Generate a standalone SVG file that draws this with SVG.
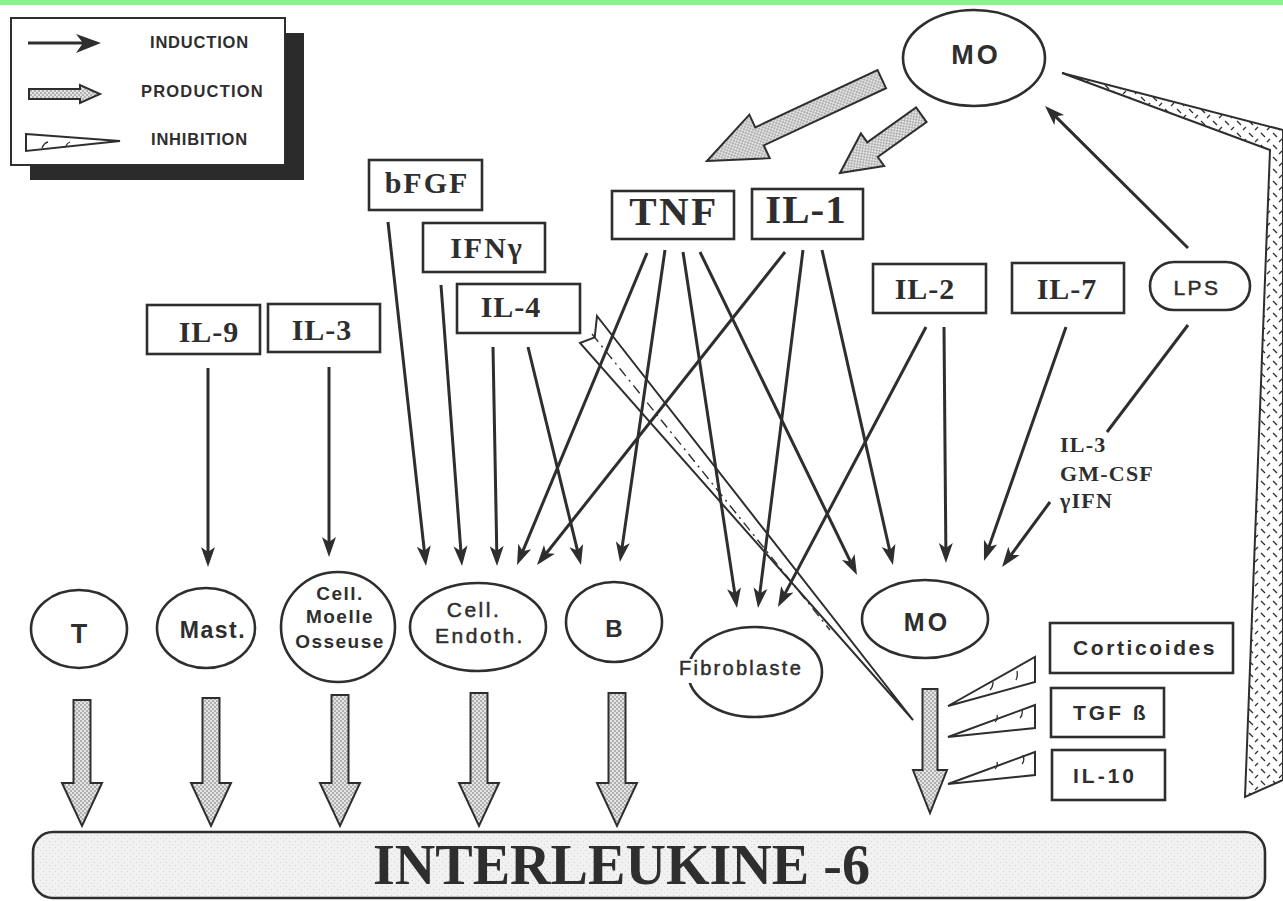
<svg xmlns="http://www.w3.org/2000/svg" width="1283" height="901" viewBox="0 0 1283 901">
  <style>
    .box { fill: #fff; stroke: #2e2e2e; stroke-width: 2.6; }
    .cell { fill: #fff; stroke: #2e2e2e; stroke-width: 2.6; }
    .ser { font-family: "Liberation Serif", "Times New Roman", serif; font-weight: bold; fill: #2e2e2e; }
    .san { font-family: "Liberation Sans", Arial, sans-serif; fill: #2e2e2e; }
    .b { font-weight: bold; }
    .med { stroke: #2e2e2e; stroke-width: 0.5; }
    .ind { fill: none; stroke: #2e2e2e; stroke-width: 3; marker-end: url(#ah); }
    .prod { fill: url(#stip); stroke: #2e2e2e; stroke-width: 2; stroke-linejoin: miter; }
    .inh { fill: #fff; stroke: #2e2e2e; stroke-width: 2; stroke-linejoin: miter; }
    .tick { fill: none; stroke: #2e2e2e; stroke-width: 1.3; }
  </style>
  <defs>
    <marker id="ah" markerUnits="userSpaceOnUse" viewBox="-13 -8 22 16" markerWidth="22" markerHeight="16" refX="0" refY="0" orient="auto">
      <path d="M8,0 L-12,-7 L-7,0 L-12,7 Z" fill="#2e2e2e"/>
    </marker>
    <pattern id="stip" patternUnits="userSpaceOnUse" width="4" height="4">
      <rect width="4" height="4" fill="#e4e4e4"/>
      <circle cx="1" cy="1" r="0.8" fill="#6e6e6e"/>
      <circle cx="3" cy="3" r="0.8" fill="#6e6e6e"/>
    </pattern>
    <pattern id="bar" patternUnits="userSpaceOnUse" width="6" height="6">
      <rect width="6" height="6" fill="#f1f1f1"/>
      <circle cx="1.5" cy="1.5" r="0.6" fill="#cfcfcf"/>
      <circle cx="4.5" cy="4.5" r="0.6" fill="#cfcfcf"/>
    </pattern>
    <pattern id="hatch" patternUnits="userSpaceOnUse" width="12" height="12">
      <rect width="12" height="12" fill="#fff"/>
      <path d="M1,1 l4,4 M10,7 l-3,3" stroke="#2e2e2e" stroke-width="1.3" fill="none"/>
    </pattern>
  </defs>

  <!-- top band -->
  <rect x="0" y="0" width="1283" height="5" fill="#8ef08e"/>

  <!-- legend -->
  <g id="legend">
    <rect x="30" y="33" width="274" height="147" fill="#2b2b2b"/>
    <rect x="11" y="18" width="274" height="147" fill="#fff" stroke="#2e2e2e" stroke-width="2"/>
    <line x1="28" y1="43" x2="84" y2="43" stroke="#2e2e2e" stroke-width="3"/>
    <path d="M101,43 L76,34 L83,43 L76,53 Z" fill="#2e2e2e"/>
    <path d="M29,89 H80 V85 L100,94 L80,103 V99 H29 Z" class="prod"/>
    <path d="M26,134 L120,141 L26,151 Z" class="inh"/>
    <path d="M42,148 q2,-5 6,-6 M66,146 q1,-3 4,-4" class="tick"/>
    <text x="150" y="48" class="san b" font-size="16.5" letter-spacing="0.8">INDUCTION</text>
    <text x="141" y="97" class="san b" font-size="16.5" letter-spacing="1.2">PRODUCTION</text>
    <text x="151" y="145" class="san b" font-size="16.5" letter-spacing="0.8">INHIBITION</text>
  </g>

  <!-- connectors -->
  <g id="connectors">
    <!-- inhibition: MO feedback band along right edge -->
    <path d="M1062,73 L1283,130 L1283,780 L1245,797 L1270,150 Z" fill="url(#hatch)" stroke="#2e2e2e" stroke-width="2"/>
    <!-- inhibition: IL-4 on MO production -->
    <path d="M597,316 L913,720 L580,343 L594.7,337.4 Z" class="inh"/>
    <path d="M592,334 L830,630" fill="none" stroke="#2e2e2e" stroke-width="1.4" stroke-dasharray="10 5 2 5"/>
    <!-- inhibition: Corticoides, TGF beta, IL-10 -->
    <path d="M948,706 L1035,657 L1035,682 Z" class="inh"/>
    <path d="M948,737 L1035,705 L1035,728 Z" class="inh"/>
    <path d="M948,784 L1035,752 L1035,775 Z" class="inh"/>
    <path d="M990,690 q3,-3 3,-8 M1016,680 q2,-4 1,-9 M995,722 q3,-2 2,-7 M1020,718 q3,-3 2,-8 M995,769 q3,-2 2,-7 M1022,764 q3,-3 1,-9" class="tick"/>

    <!-- production: MO to TNF and IL-1 -->
    <path d="M0,0 L-58,-24 L-58,-10 L-193,-10 L-193,10 L-58,10 L-58,24 Z" class="prod" transform="translate(707,161) rotate(154.9)"/>
    <path d="M0,0 L-40,-20 L-40,-9 L-100,-9 L-100,9 L-40,9 L-40,20 Z" class="prod" transform="translate(840,173) rotate(144.4)"/>

    <!-- production: cells to IL-6 -->
    <path d="M73.5,700 H90.5 V783 H102 L82,826 L62,783 H73.5 Z" class="prod"/>
    <path d="M202.5,698 H219.5 V783 H231 L211,826 L191,783 H202.5 Z" class="prod"/>
    <path d="M331.5,695 H348.5 V783 H360 L340,826 L320,783 H331.5 Z" class="prod"/>
    <path d="M470.5,693 H487.5 V783 H499 L479,826 L459,783 H470.5 Z" class="prod"/>
    <path d="M608.5,693 H625.5 V783 H637 L617,826 L597,783 H608.5 Z" class="prod"/>
    <path d="M922.5,689 H937.5 V770 H947 L930,813 L913,770 H922.5 Z" class="prod"/>

    <!-- induction -->
    <line x1="208" y1="368" x2="208" y2="559" class="ind"/>
    <line x1="329" y1="367" x2="329" y2="549" class="ind"/>
    <line x1="388" y1="222" x2="425.1" y2="558" class="ind"/>
    <line x1="441" y1="285" x2="461.4" y2="558" class="ind"/>
    <line x1="493" y1="347" x2="496.9" y2="558" class="ind"/>
    <line x1="528" y1="347" x2="579.1" y2="557.2" class="ind"/>
    <line x1="647" y1="253" x2="520.1" y2="557.6" class="ind"/>
    <line x1="665" y1="250" x2="621.1" y2="554.1" class="ind"/>
    <line x1="683" y1="252" x2="735.8" y2="600.1" class="ind"/>
    <line x1="700" y1="252" x2="853.5" y2="567.8" class="ind"/>
    <line x1="785" y1="252" x2="542" y2="558.7" class="ind"/>
    <line x1="803" y1="250" x2="759" y2="600.1" class="ind"/>
    <line x1="822" y1="250" x2="891.2" y2="557.2" class="ind"/>
    <line x1="926" y1="327" x2="781.7" y2="599.9" class="ind"/>
    <line x1="944" y1="327" x2="945.9" y2="555" class="ind"/>
    <line x1="1066" y1="327" x2="986.6" y2="553.4" class="ind"/>
    <line x1="1188" y1="325" x2="1107" y2="432" fill="none" stroke="#2e2e2e" stroke-width="3"/>
    <line x1="1050" y1="502" x2="1006.8" y2="560.6" class="ind"/>
    <line x1="1188" y1="248" x2="1050.7" y2="111.6" class="ind"/>
  </g>

  <!-- mediators -->
  <g id="mo-top">
    <ellipse cx="974" cy="58" rx="71" ry="48" class="cell"/>
    <text x="976" y="64" class="san b" font-size="27" letter-spacing="3" text-anchor="middle">MO</text>
  </g>
  <g id="tnf">
    <rect x="612" y="191" width="122" height="48" class="box"/>
    <text x="674" y="225" class="ser" font-size="41" letter-spacing="2.5" text-anchor="middle">TNF</text>
  </g>
  <g id="il1">
    <rect x="752" y="189" width="111" height="50" class="box"/>
    <text x="806" y="223" class="ser" font-size="41" letter-spacing="1" text-anchor="middle">IL-1</text>
  </g>
  <g id="bfgf">
    <rect x="369" y="160" width="113" height="50" class="box"/>
    <text x="427" y="193" class="ser" font-size="30" letter-spacing="2" text-anchor="middle">bFGF</text>
  </g>
  <g id="ifng">
    <rect x="423" y="223" width="122" height="49" class="box"/>
    <text x="487" y="258" class="ser" font-size="30" letter-spacing="2" text-anchor="middle">IFNγ</text>
  </g>
  <g id="il4">
    <rect x="457" y="284" width="123" height="49" class="box"/>
    <text x="511" y="317" class="ser" font-size="30" letter-spacing="1" text-anchor="middle">IL-4</text>
  </g>
  <g id="il9">
    <rect x="147" y="305" width="113" height="49" class="box"/>
    <text x="209" y="342" class="ser" font-size="30" letter-spacing="1" text-anchor="middle">IL-9</text>
  </g>
  <g id="il3">
    <rect x="268" y="304" width="112" height="48" class="box"/>
    <text x="322" y="340" class="ser" font-size="30" letter-spacing="1" text-anchor="middle">IL-3</text>
  </g>
  <g id="il2">
    <rect x="873" y="264" width="113" height="49" class="box"/>
    <text x="925" y="299" class="ser" font-size="30" letter-spacing="1" text-anchor="middle">IL-2</text>
  </g>
  <g id="il7">
    <rect x="1012" y="263" width="112" height="50" class="box"/>
    <text x="1067" y="299" class="ser" font-size="30" letter-spacing="1" text-anchor="middle">IL-7</text>
  </g>
  <g id="lps">
    <rect x="1150" y="262" width="100" height="48" rx="24" ry="24" class="box"/>
    <text x="1197" y="295" class="san med" font-size="21" letter-spacing="2.5" text-anchor="middle">LPS</text>
  </g>
  <g id="cofactors">
    <text x="1060" y="452" class="ser" font-size="22" letter-spacing="1.2">IL-3</text>
    <text x="1060" y="481" class="ser" font-size="22" letter-spacing="1.2">GM-CSF</text>
    <text x="1060" y="508" class="ser" font-size="22" letter-spacing="1.2">γIFN</text>
  </g>

  <!-- producing cells -->
  <g id="cell-t">
    <ellipse cx="79" cy="629" rx="48" ry="39" class="cell"/>
    <text x="79" y="643" class="san b" font-size="27" text-anchor="middle">T</text>
  </g>
  <g id="cell-mast">
    <ellipse cx="206" cy="628" rx="49" ry="40" class="cell"/>
    <text x="213" y="638" class="san b" font-size="23" letter-spacing="1.5" text-anchor="middle">Mast.</text>
  </g>
  <g id="cell-moelle">
    <ellipse cx="338" cy="627" rx="57" ry="55" class="cell"/>
    <text x="340" y="600" class="san b" font-size="19" letter-spacing="1.5" text-anchor="middle">Cell.</text>
    <text x="340" y="623" class="san b" font-size="19" letter-spacing="1.5" text-anchor="middle">Moelle</text>
    <text x="340" y="648" class="san b" font-size="19" letter-spacing="1.5" text-anchor="middle">Osseuse</text>
  </g>
  <g id="cell-endoth">
    <ellipse cx="478" cy="627" rx="68" ry="44" class="cell"/>
    <text x="474" y="617" class="san med" font-size="21" letter-spacing="2.5" text-anchor="middle">Cell.</text>
    <text x="480" y="643" class="san med" font-size="21" letter-spacing="2.5" text-anchor="middle">Endoth.</text>
  </g>
  <g id="cell-b">
    <ellipse cx="614" cy="622" rx="48" ry="40" class="cell"/>
    <text x="614" y="637" class="san b" font-size="24" text-anchor="middle">B</text>
  </g>
  <g id="cell-fibro">
    <ellipse cx="755" cy="672" rx="67" ry="45" class="cell"/>
    <rect x="680" y="659" width="16" height="24" fill="#fff"/>
    <text x="741" y="675" class="san med" font-size="20" letter-spacing="2.3" text-anchor="middle">Fibroblaste</text>
  </g>
  <g id="cell-mo">
    <ellipse cx="925" cy="619" rx="63" ry="39" class="cell"/>
    <text x="927" y="631" class="san b" font-size="25" letter-spacing="3" text-anchor="middle">MO</text>
  </g>

  <!-- inhibitors -->
  <g id="corticoides">
    <rect x="1050" y="623" width="183" height="50" class="box"/>
    <text x="1073" y="655" class="san b" font-size="21" letter-spacing="2.6">Corticoides</text>
  </g>
  <g id="tgfb">
    <rect x="1051" y="688" width="113" height="49" class="box"/>
    <text x="1073" y="720" class="san b" font-size="21" letter-spacing="3">TGF ß</text>
  </g>
  <g id="il10">
    <rect x="1052" y="750" width="113" height="50" class="box"/>
    <text x="1073" y="783" class="san b" font-size="21" letter-spacing="3">IL-10</text>
  </g>

  <!-- output -->
  <g id="il6">
    <rect x="33" y="832" width="1232" height="66" rx="20" ry="20" fill="url(#bar)" stroke="#2e2e2e" stroke-width="2.6"/>
    <text x="373" y="884" class="ser" font-size="56" textLength="497" lengthAdjust="spacingAndGlyphs">INTERLEUKINE -6</text>
  </g>
</svg>
